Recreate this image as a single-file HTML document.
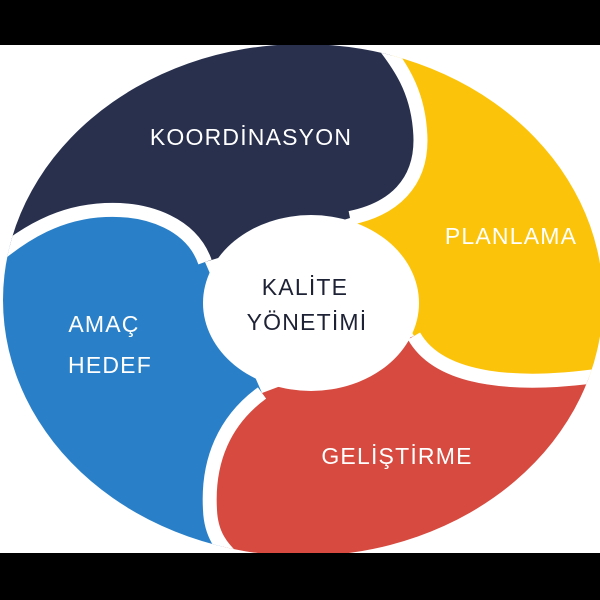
<!DOCTYPE html>
<html><head><meta charset="utf-8"><style>
html,body{margin:0;padding:0;background:#fff}
svg{display:block}
text{font-family:"Liberation Sans",sans-serif;font-size:23px;letter-spacing:1.2px;text-anchor:middle}
</style></head><body>
<svg width="600" height="600" viewBox="0 0 600 600">
<defs><clipPath id="c"><ellipse cx="303" cy="300" rx="300" ry="256"/></clipPath></defs>
<rect width="600" height="600" fill="#fff"/>
<g clip-path="url(#c)">
<path fill="#28304e" d="M205,262 C192,225 150,208 105,210 C60,212 25,232 -10,262 L-10,-10 L380,-10 L380,40 C400,65 417,90 420,130 C425,185 390,210 350,218 Z"/>
<path fill="#fcc30b" d="M350,218 C390,210 425,185 420,130 C417,90 400,65 380,40 L380,-10 L610,-10 L610,374 C520,388 440,382 414,336 Z"/>
<path fill="#d64a3f" d="M414,336 C440,382 520,388 610,374 L610,610 L235,610 L235,560 C222,548 211,535 210,510 C207,460 225,420 262,393 Z"/>
<path fill="#2a80c8" d="M262,393 C225,420 207,460 210,510 C211,535 222,548 235,560 L235,610 L-10,610 L-10,262 C25,232 60,212 105,210 C150,208 192,225 205,262 Z"/>
<g fill="none" stroke="#fff" stroke-width="14">
<path d="M205,262 C192,225 150,208 105,210 C60,212 25,232 -10,262"/>
<path d="M350,218 C390,210 425,185 420,130 C417,90 400,65 380,40"/>
<path d="M414,336 C440,382 520,388 610,374"/>
<path d="M262,393 C225,420 207,460 210,510 C211,535 222,548 235,560"/>
</g>
<ellipse cx="311" cy="303" rx="108" ry="88" fill="#fff"/>
</g>
<rect x="0" y="0" width="600" height="45" fill="#000"/>
<rect x="0" y="553" width="600" height="47" fill="#000"/>
<g fill="#fff">
<text x="251" y="145">KOORDİNASYON</text>
<text x="511" y="244">PLANLAMA</text>
<text x="104" y="332">AMAÇ</text>
<text x="110" y="373">HEDEF</text>
<text x="397" y="464">GELİŞTİRME</text>
</g>
<g fill="#1e2235">
<text x="305" y="295">KALİTE</text>
<text x="307" y="330">YÖNETİMİ</text>
</g>
</svg>
</body></html>
